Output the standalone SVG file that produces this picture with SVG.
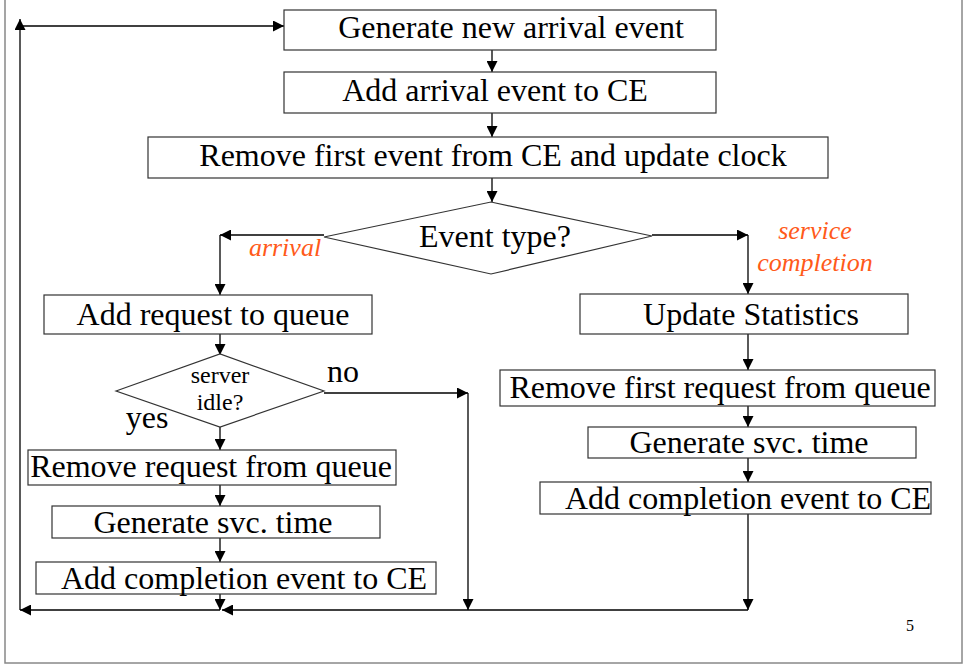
<svg xmlns="http://www.w3.org/2000/svg" width="964" height="665" viewBox="0 0 964 665">
<style>
text{font-family:'Liberation Serif','Tinos','DejaVu Serif',serif}
.box{fill:#fff;stroke:#333;stroke-width:1.2}
.t{font-size:32px;fill:#000;text-anchor:middle}
.s{font-size:24px;fill:#000;text-anchor:middle}
.lbl{font-size:26px;font-style:italic;fill:#FF5A1A;text-anchor:middle}
.c{fill:none;stroke:#000;stroke-width:1.3}
.frame{fill:none;stroke:#888;stroke-width:1.5}
</style>
<defs>
<marker id="ah" markerUnits="userSpaceOnUse" markerWidth="11" markerHeight="11" refX="10" refY="5" orient="auto" viewBox="0 0 10 10">
<path d="M0,0 L10,5 L0,10 z" fill="#000"/>
</marker>
</defs>
<rect class="frame" x="5" y="-2" width="957" height="665"/>
<g id="connectors">
<line class="c" x1="748" y1="610" x2="222" y2="610" marker-end="url(#ah)"/>
<line class="c" x1="220" y1="610" x2="20" y2="610" marker-end="url(#ah)"/>
<line class="c" x1="20" y1="610" x2="20" y2="19" marker-end="url(#ah)"/>
<line class="c" x1="20" y1="26" x2="284" y2="26" marker-end="url(#ah)"/>
<line class="c" x1="492" y1="50" x2="492" y2="72" marker-end="url(#ah)"/>
<line class="c" x1="492" y1="113" x2="492" y2="137" marker-end="url(#ah)"/>
<line class="c" x1="492" y1="178" x2="492" y2="202" marker-end="url(#ah)"/>
<line class="c" x1="324" y1="235" x2="220" y2="235" marker-end="url(#ah)"/>
<line class="c" x1="220" y1="235" x2="220" y2="295" marker-end="url(#ah)"/>
<line class="c" x1="652" y1="235" x2="748" y2="235" marker-end="url(#ah)"/>
<line class="c" x1="748" y1="235" x2="748" y2="294" marker-end="url(#ah)"/>
<line class="c" x1="220" y1="334" x2="220" y2="355" marker-end="url(#ah)"/>
<line class="c" x1="324" y1="393" x2="468" y2="393" marker-end="url(#ah)"/>
<line class="c" x1="468" y1="393" x2="468" y2="610" marker-end="url(#ah)"/>
<line class="c" x1="220" y1="427" x2="220" y2="450" marker-end="url(#ah)"/>
<line class="c" x1="220" y1="485" x2="220" y2="506" marker-end="url(#ah)"/>
<line class="c" x1="220" y1="538" x2="220" y2="562" marker-end="url(#ah)"/>
<line class="c" x1="220" y1="594" x2="220" y2="610" marker-end="url(#ah)"/>
<line class="c" x1="748" y1="334" x2="748" y2="370" marker-end="url(#ah)"/>
<line class="c" x1="748" y1="406" x2="748" y2="427" marker-end="url(#ah)"/>
<line class="c" x1="748" y1="458" x2="748" y2="482" marker-end="url(#ah)"/>
<line class="c" x1="748" y1="514" x2="748" y2="610" marker-end="url(#ah)"/>
<text class="lbl" x="285" y="256">arrival</text>
<text class="lbl" x="815" y="239">service</text>
<text class="lbl" x="815" y="271">completion</text>
<text class="t" x="343" y="382">no</text>
<text class="t" x="147" y="428">yes</text>
</g>
<g id="gen-arrival">
<rect class="box" x="284" y="10" width="432" height="40"/>
<text class="t" x="511" y="38">Generate new arrival event</text>
</g>
<g id="add-arrival">
<rect class="box" x="284" y="72" width="432" height="41"/>
<text class="t" x="495" y="101">Add arrival event to CE</text>
</g>
<g id="remove-first-event">
<rect class="box" x="148" y="137" width="680" height="41"/>
<text class="t" x="493" y="166">Remove first event from CE and update clock</text>
</g>
<g id="event-type">
<polygon class="box" points="324,237 491,202 652,236 491,274"/>
<text class="t" x="495" y="247">Event type?</text>
</g>
<g id="add-request">
<rect class="box" x="44" y="295" width="328" height="39"/>
<text class="t" x="213" y="325">Add request to queue</text>
</g>
<g id="update-stats">
<rect class="box" x="580" y="294" width="328" height="40"/>
<text class="t" x="751" y="325">Update Statistics</text>
</g>
<g id="server-idle">
<polygon class="box" points="116,391 220,354 324,391 220,427"/>
<text class="s" x="220" y="383">server</text>
<text class="s" x="220" y="410">idle?</text>
</g>
<g id="remove-request">
<rect class="box" x="28" y="450" width="368" height="35"/>
<text class="t" x="211" y="477">Remove request from queue</text>
</g>
<g id="gen-svc-left">
<rect class="box" x="52" y="506" width="328" height="32"/>
<text class="t" x="213" y="533">Generate svc. time</text>
</g>
<g id="add-completion-left">
<rect class="box" x="36" y="562" width="400" height="32"/>
<text class="t" x="244" y="589">Add completion event to CE</text>
</g>
<g id="remove-first-request">
<rect class="box" x="500" y="370" width="435" height="36"/>
<text class="t" x="720" y="398">Remove first request from queue</text>
</g>
<g id="gen-svc-right">
<rect class="box" x="588" y="427" width="328" height="31"/>
<text class="t" x="749" y="453">Generate svc. time</text>
</g>
<g id="add-completion-right">
<rect class="box" x="540" y="482" width="391" height="32"/>
<text class="t" x="748" y="509">Add completion event to CE</text>
</g>
<text x="910" y="631" style="font-size:16px;text-anchor:middle">5</text>
</svg>
